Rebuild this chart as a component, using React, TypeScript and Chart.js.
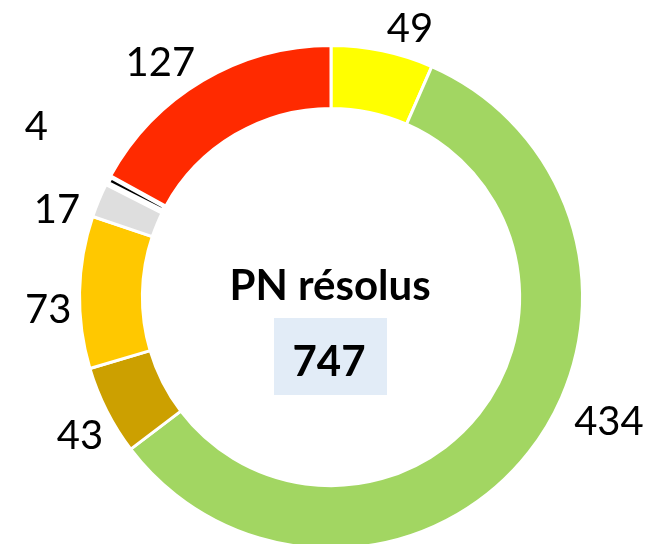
import React, { useEffect, useRef } from "react";
import { Chart, registerables } from "chart.js";

Chart.register(...registerables);

const categories = ["A", "B", "C", "D", "E", "F", "G"];
const values = [49, 434, 43, 73, 17, 4, 127];
const colors = ["#FFFF00", "#A2D662", "#CCA000", "#FFC800", "#DEDEDE", "#000000", "#FF2A00"];
const centerTitle = "PN résolus";
const centerValue = "747";
// label placement: angular shift (deg) from slice mid-angle, and distance from centre (px)
const labelShift = [4.5, -14.3, -1.8, -3.3, -4.8, 2.4, -5.3];
const labelDist = [281, 304, 286, 283, 288, 341, 291];
const borderWidths = [3, 3, 3, 3, 3, 6, 3];

const FONT = "Lato, 'Open Sans', sans-serif";

const labelPlugin = {
  id: "labelsAndCenter",
  afterDraw(chart: any) {
    const ctx = chart.ctx;
    const meta = chart.getDatasetMeta(0);
    const arcs = meta.data;
    if (!arcs.length) return;
    const cx = arcs[0].x;
    const cy = arcs[0].y;
    ctx.save();
    ctx.fillStyle = "#000";
    ctx.font = `40px ${FONT}`;
    ctx.textAlign = "center";
    ctx.textBaseline = "middle";
    arcs.forEach((arc: any, i: number) => {
      const mid = (arc.startAngle + arc.endAngle) / 2 + (labelShift[i] * Math.PI) / 180;
      const d = labelDist[i];
      const x = cx + Math.cos(mid) * d;
      const y = cy + Math.sin(mid) * d;
      ctx.fillText(String(values[i]), x, y + 2);
    });
    // center box
    ctx.fillStyle = "#E2ECF7";
    ctx.fillRect(cx - 57, cy + 21, 113, 77);
    ctx.fillStyle = "#000";
    ctx.font = `bold 42px ${FONT}`;
    ctx.textBaseline = "alphabetic";
    ctx.fillText(centerTitle, cx - 1, cy + 3);
    ctx.font = `bold 42px ${FONT}`;
    ctx.fillText(centerValue, cx - 2, cy + 79);
    ctx.restore();
  },
};

export default function App() {
  const ref = useRef<HTMLCanvasElement | null>(null);
  useEffect(() => {
    document.body.style.margin = "0";
    const chart = new Chart(ref.current as HTMLCanvasElement, {
      type: "doughnut",
      data: {
        labels: categories,
        datasets: [
          {
            data: values,
            backgroundColor: colors,
            borderColor: "#FFFFFF",
            borderWidth: borderWidths,
          },
        ],
      },
      options: {
        animation: false,
        responsive: false,
        cutout: "75%",
        layout: { padding: { left: 5, right: 0, top: 42.5, bottom: 48.5 } },
        plugins: { legend: { display: false }, tooltip: { enabled: false } },
      },
      plugins: [labelPlugin],
    });
    return () => chart.destroy();
  }, []);
  return (
    <div style={{ position: "absolute", left: 0, top: 0, width: 657, height: 544, overflow: "hidden", background: "#fff" }}>
      <canvas ref={ref} width={657} height={600} style={{ width: 657, height: 600, display: "block" }} />
    </div>
  );
}
